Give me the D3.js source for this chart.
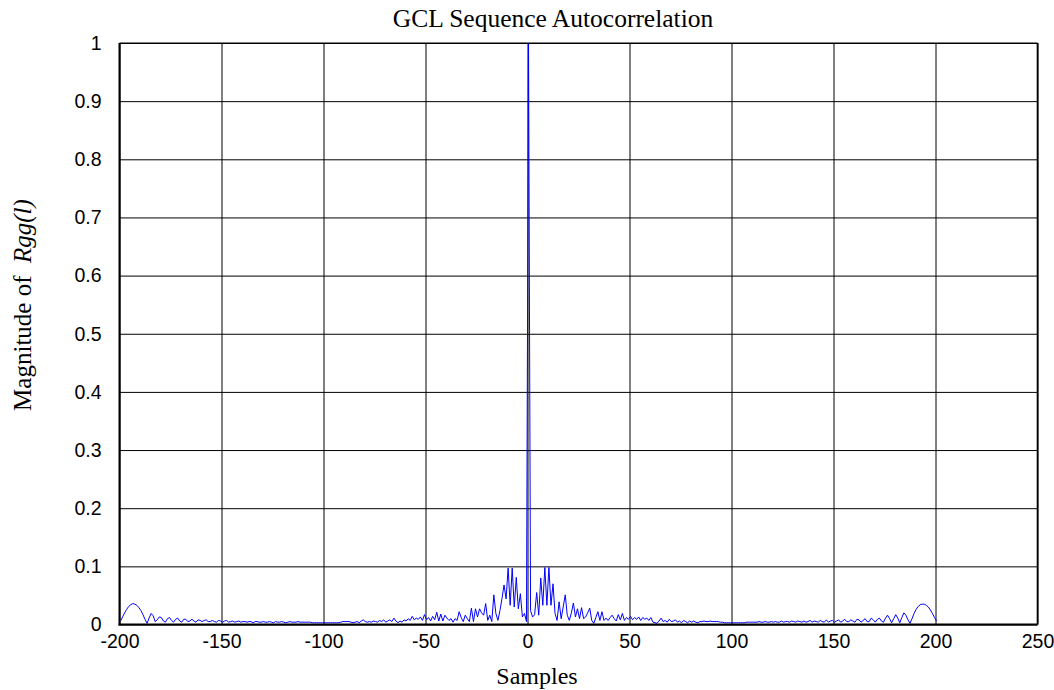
<!DOCTYPE html>
<html>
<head>
<meta charset="utf-8">
<script src="https://cdn.jsdelivr.net/npm/d3@7"></script>
<style>
  html, body { margin: 0; padding: 0; background: #fff; }
  svg { display: block; }
</style>
</head>
<body>
<svg id="chart" width="1054" height="690"></svg>
<script>
// ---------- data ----------
const title = "GCL Sequence Autocorrelation";
const xLabel = "Samples";
const yLabelPlain = "Magnitude of";
const yLabelItalic = "Rgg(l)";

const xTicks = [-200, -150, -100, -50, 0, 50, 100, 150, 200, 250];
const xTickLabels = ["-200", "-150", "-100", "-50", "0", "50", "100", "150", "200", "250"];
const yTicks = [0, 0.1, 0.2, 0.3, 0.4, 0.5, 0.6, 0.7, 0.8, 0.9, 1];
const yTickLabels = ["0", "0.1", "0.2", "0.3", "0.4", "0.5", "0.6", "0.7", "0.8", "0.9", "1"];

// lag positions of the samples (half-sample centred)
const lagStart = -199.5;

// |Rgg| for lags left of the main peak (k = -200 .. -1)
const leftSide = [
  0.006, 0.013, 0.020, 0.026, 0.031, 0.034, 0.036, 0.035, 0.033, 0.029,
  0.024, 0.017, 0.009, 0.002, 0.011, 0.019, 0.015, 0.005, 0.008, 0.013,
  0.012, 0.006, 0.004, 0.010, 0.012, 0.007, 0.004, 0.009, 0.011, 0.006,
  0.004, 0.009, 0.009, 0.005, 0.006, 0.009, 0.006, 0.004, 0.008, 0.007,
  0.005, 0.007, 0.008, 0.005, 0.005, 0.007, 0.005, 0.004, 0.007, 0.006,
  0.004, 0.006, 0.007, 0.004, 0.005, 0.006, 0.004, 0.005, 0.006, 0.004,
  0.005, 0.005, 0.004, 0.005, 0.005, 0.003, 0.005, 0.005, 0.004, 0.004,
  0.005, 0.004, 0.004, 0.005, 0.004, 0.003, 0.005, 0.004, 0.004, 0.005,
  0.004, 0.003, 0.004, 0.005, 0.004, 0.004, 0.004, 0.005, 0.004, 0.004,
  0.004, 0.004, 0.004, 0.004, 0.003, 0.003, 0.003, 0.003, 0.003, 0.003,
  0.003, 0.003, 0.003, 0.003, 0.003, 0.003, 0.003, 0.003, 0.004, 0.005,
  0.005, 0.005, 0.005, 0.004, 0.003, 0.004, 0.005, 0.003, 0.006, 0.008,
  0.005, 0.004, 0.005, 0.004, 0.006, 0.005, 0.004, 0.007, 0.005, 0.008,
  0.004, 0.006, 0.008, 0.005, 0.011, 0.006, 0.003, 0.006, 0.004, 0.008,
  0.006, 0.010, 0.007, 0.014, 0.008, 0.011, 0.009, 0.013, 0.007, 0.017,
  0.008, 0.012, 0.006, 0.014, 0.008, 0.021, 0.006, 0.018, 0.006, 0.016,
  0.011, 0.007, 0.010, 0.004, 0.010, 0.007, 0.022, 0.012, 0.005, 0.016,
  0.010, 0.005, 0.028, 0.005, 0.027, 0.013, 0.027, 0.020, 0.016, 0.036,
  0.007, 0.016, 0.005, 0.051, 0.019, 0.007, 0.024, 0.045, 0.068, 0.044,
  0.097, 0.033, 0.097, 0.030, 0.081, 0.027, 0.053, 0.013, 0.019, 0.005
];
const mainPeak = [1.0];
// |Rgg| for lags right of the main peak (k = 1 .. 200)
const rightSide = [
  0.024, 0.013, 0.017, 0.055, 0.016, 0.080, 0.033, 0.098, 0.033, 0.098,
  0.033, 0.070, 0.019, 0.007, 0.039, 0.010, 0.030, 0.051, 0.016, 0.007,
  0.020, 0.037, 0.013, 0.027, 0.010, 0.029, 0.010, 0.013, 0.020, 0.028,
  0.007, 0.002, 0.012, 0.022, 0.007, 0.022, 0.007, 0.011, 0.007, 0.012,
  0.016, 0.010, 0.006, 0.017, 0.008, 0.019, 0.007, 0.012, 0.009, 0.014,
  0.008, 0.012, 0.009, 0.013, 0.007, 0.012, 0.009, 0.011, 0.007, 0.012,
  0.004, 0.003, 0.002, 0.006, 0.011, 0.005, 0.007, 0.004, 0.009, 0.005,
  0.006, 0.008, 0.004, 0.006, 0.003, 0.007, 0.005, 0.003, 0.006, 0.004,
  0.006, 0.004, 0.003, 0.005, 0.005, 0.006, 0.005, 0.005, 0.006, 0.005,
  0.005, 0.005, 0.005, 0.004, 0.004, 0.003, 0.003, 0.003, 0.003, 0.003,
  0.003, 0.003, 0.003, 0.003, 0.003, 0.003, 0.004, 0.004, 0.004, 0.004,
  0.004, 0.004, 0.005, 0.004, 0.004, 0.005, 0.004, 0.004, 0.005, 0.004,
  0.005, 0.004, 0.004, 0.006, 0.004, 0.005, 0.005, 0.004, 0.006, 0.005,
  0.004, 0.006, 0.005, 0.004, 0.006, 0.004, 0.005, 0.007, 0.004, 0.006,
  0.005, 0.004, 0.007, 0.005, 0.004, 0.008, 0.004, 0.006, 0.007, 0.004,
  0.006, 0.008, 0.004, 0.006, 0.009, 0.005, 0.005, 0.008, 0.006, 0.004,
  0.009, 0.008, 0.004, 0.007, 0.010, 0.005, 0.005, 0.011, 0.008, 0.004,
  0.009, 0.011, 0.006, 0.004, 0.011, 0.016, 0.010, 0.003, 0.010, 0.017,
  0.011, 0.003, 0.012, 0.020, 0.016, 0.008, 0.002, 0.010, 0.019, 0.026,
  0.031, 0.034, 0.035, 0.035, 0.033, 0.030, 0.025, 0.019, 0.012, 0.006
];

// ---------- build ----------
const values = leftSide.concat(mainPeak, rightSide);
const series = values.map((v, i) => ({ lag: lagStart + i, v: v }));

const svg = d3.select("#chart");
const W = 1054, H = 690;
const margin = { left: 119.5, right: 1037.5, top: 43, bottom: 624.5 };

const x = d3.scaleLinear().domain([-200, 250]).range([margin.left, margin.right]);
const y = d3.scaleLinear().domain([0, 1]).range([margin.bottom, margin.top]);

svg.append("rect").attr("x", 0).attr("y", 0).attr("width", W).attr("height", H).attr("fill", "#fff");

const tickFont = "'Liberation Sans', Arial, sans-serif";
const serifFont = "'Liberation Serif', 'Times New Roman', serif";

// x grid + labels
const gx = svg.append("g")
  .attr("transform", `translate(0,${margin.bottom})`)
  .call(d3.axisBottom(x).tickValues(xTicks).tickFormat((d, i) => xTickLabels[i])
        .tickSize(-(margin.bottom - margin.top)).tickPadding(10));
gx.select(".domain").remove();
gx.selectAll("line").attr("stroke", "#000").attr("stroke-width", 1);
gx.selectAll("text").attr("fill", "#000").style("font-family", tickFont).style("font-size", "19.5px");

// y grid + labels
const gy = svg.append("g")
  .attr("transform", `translate(${margin.left},0)`)
  .call(d3.axisLeft(y).tickValues(yTicks).tickFormat((d, i) => yTickLabels[i])
        .tickSize(-(margin.right - margin.left)).tickPadding(18));
gy.select(".domain").remove();
gy.selectAll("line").attr("stroke", "#000").attr("stroke-width", 1);
gy.selectAll("text").attr("fill", "#000").style("font-family", tickFont).style("font-size", "19.5px");

// data line
const line = d3.line().x(d => x(d.lag)).y(d => y(d.v));
svg.append("path")
  .datum(series)
  .attr("fill", "none")
  .attr("stroke", "#0000ff")
  .attr("stroke-width", 1)
  .attr("stroke-linejoin", "round")
  .attr("d", line);

// frame
svg.append("line").attr("x1", margin.left).attr("x2", margin.left)
  .attr("y1", margin.top).attr("y2", margin.bottom + 1).attr("stroke", "#000").attr("stroke-width", 2);
svg.append("line").attr("x1", margin.left - 1).attr("x2", margin.right)
  .attr("y1", margin.bottom).attr("y2", margin.bottom).attr("stroke", "#000").attr("stroke-width", 2);
svg.append("line").attr("x1", margin.right).attr("x2", margin.right)
  .attr("y1", margin.top).attr("y2", margin.bottom).attr("stroke", "#000").attr("stroke-width", 1.6);
svg.append("line").attr("x1", margin.left).attr("x2", margin.right)
  .attr("y1", margin.top).attr("y2", margin.top).attr("stroke", "#000").attr("stroke-width", 1.2);

// title
svg.append("text").attr("x", 553).attr("y", 27).attr("text-anchor", "middle")
  .style("font-family", serifFont).style("font-size", "25.5px").attr("fill", "#000")
  .text(title);

// x label
svg.append("text").attr("x", 537).attr("y", 684).attr("text-anchor", "middle")
  .style("font-family", serifFont).style("font-size", "24px").attr("fill", "#000")
  .text(xLabel);

// y label
const yl = svg.append("text")
  .attr("transform", "translate(31,305) rotate(-90)")
  .attr("text-anchor", "middle")
  .style("font-family", serifFont).style("font-size", "25px").attr("fill", "#000");
yl.append("tspan").text(yLabelPlain + "\u00a0\u00a0");
yl.append("tspan").style("font-style", "italic").text(yLabelItalic);
</script>
</body>
</html>
